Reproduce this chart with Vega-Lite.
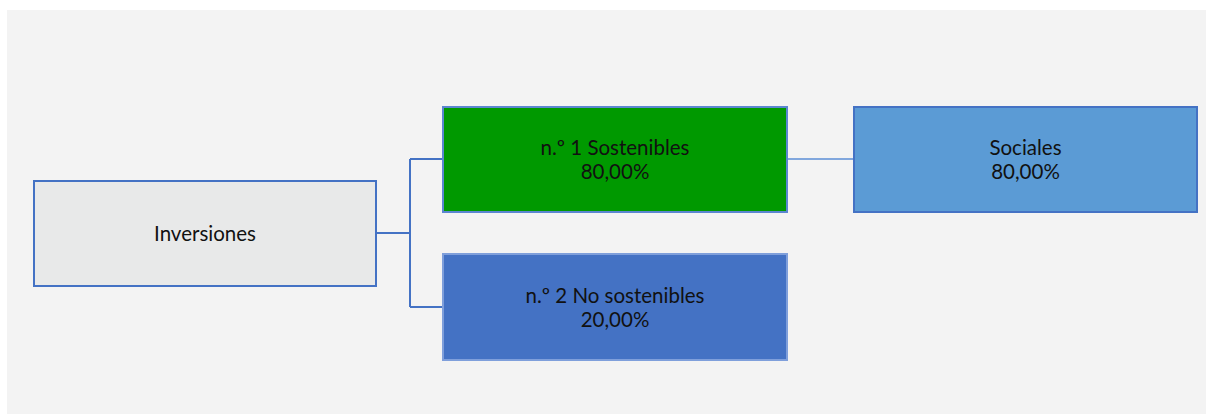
{
  "$schema": "https://vega.github.io/schema/vega-lite/v6.json",
  "width": 1199,
  "height": 404,
  "padding": {"left": 7, "top": 10, "right": 0, "bottom": 0},
  "autosize": {"type": "none"},
  "background": "#ffffff",
  "config": {"view": {"fill": "#f3f3f3", "stroke": null}},
  "datasets": {
    "nodes": [
      {"node": "Inversiones", "label": "Inversiones", "x0": 34, "x1": 376, "y0": 181, "y1": 286},
      {"node": "Sostenibles", "label": "n.º 1 Sostenibles\n80,00%", "x0": 443, "x1": 787, "y0": 107, "y1": 212},
      {"node": "Sociales", "label": "Sociales\n80,00%", "x0": 854, "x1": 1197, "y0": 107, "y1": 212},
      {"node": "NoSostenibles", "label": "n.º 2 No sostenibles\n20,00%", "x0": 443, "x1": 787, "y0": 254, "y1": 360}
    ],
    "links": [
      {"group": "a", "x0": 376, "x1": 410, "y0": 233, "y1": 233},
      {"group": "a", "x0": 410, "x1": 410, "y0": 159, "y1": 307},
      {"group": "a", "x0": 410, "x1": 443, "y0": 159, "y1": 159},
      {"group": "a", "x0": 410, "x1": 443, "y0": 307, "y1": 307},
      {"group": "b", "x0": 787, "x1": 854, "y0": 159, "y1": 159}
    ]
  },
  "layer": [
    {
      "data": {"name": "links"},
      "mark": {"type": "rule"},
      "encoding": {
        "x": {"field": "x0", "type": "quantitative", "scale": {"domain": [7, 1206]}, "axis": null},
        "x2": {"field": "x1"},
        "y": {"field": "y0", "type": "quantitative", "scale": {"domain": [414, 10]}, "axis": null},
        "y2": {"field": "y1"},
        "color": {"field": "group", "type": "nominal", "scale": {"domain": ["a", "b"], "range": ["#4472c4", "#5b8ed6"]}, "legend": null},
        "strokeWidth": {"field": "group", "type": "nominal", "scale": {"domain": ["a", "b"], "range": [2, 1.5]}, "legend": null}
      }
    },
    {
      "data": {"name": "nodes"},
      "mark": {"type": "rect", "strokeWidth": 2},
      "encoding": {
        "x": {"field": "x0", "type": "quantitative", "scale": {"domain": [7, 1206]}, "axis": null},
        "x2": {"field": "x1"},
        "y": {"field": "y0", "type": "quantitative", "scale": {"domain": [414, 10]}, "axis": null},
        "y2": {"field": "y1"},
        "fill": {"field": "node", "type": "nominal", "scale": {"domain": ["Inversiones", "Sostenibles", "Sociales", "NoSostenibles"], "range": ["#e8e9e9", "#009900", "#5b9bd5", "#4472c4"]}, "legend": null},
        "stroke": {"field": "node", "type": "nominal", "scale": {"domain": ["Inversiones", "Sostenibles", "Sociales", "NoSostenibles"], "range": ["#4472c4", "#5b86d0", "#4472c4", "#7f9fdb"]}, "legend": null}
      }
    },
    {
      "data": {"name": "nodes"},
      "transform": [
        {"calculate": "(datum.x0 + datum.x1) / 2", "as": "xc"},
        {"calculate": "(datum.y0 + datum.y1) / 2 - (indexof(datum.label, '\\n') >= 0 ? 10.5 : -1.5)", "as": "yc"}
      ],
      "mark": {"type": "text", "font": "Lato", "fontSize": 20.5, "lineHeight": 24, "lineBreak": "\n", "color": "#111111", "align": "center", "baseline": "middle"},
      "encoding": {
        "x": {"field": "xc", "type": "quantitative", "scale": {"domain": [7, 1206]}, "axis": null},
        "y": {"field": "yc", "type": "quantitative", "scale": {"domain": [414, 10]}, "axis": null},
        "text": {"field": "label"}
      }
    }
  ]
}
